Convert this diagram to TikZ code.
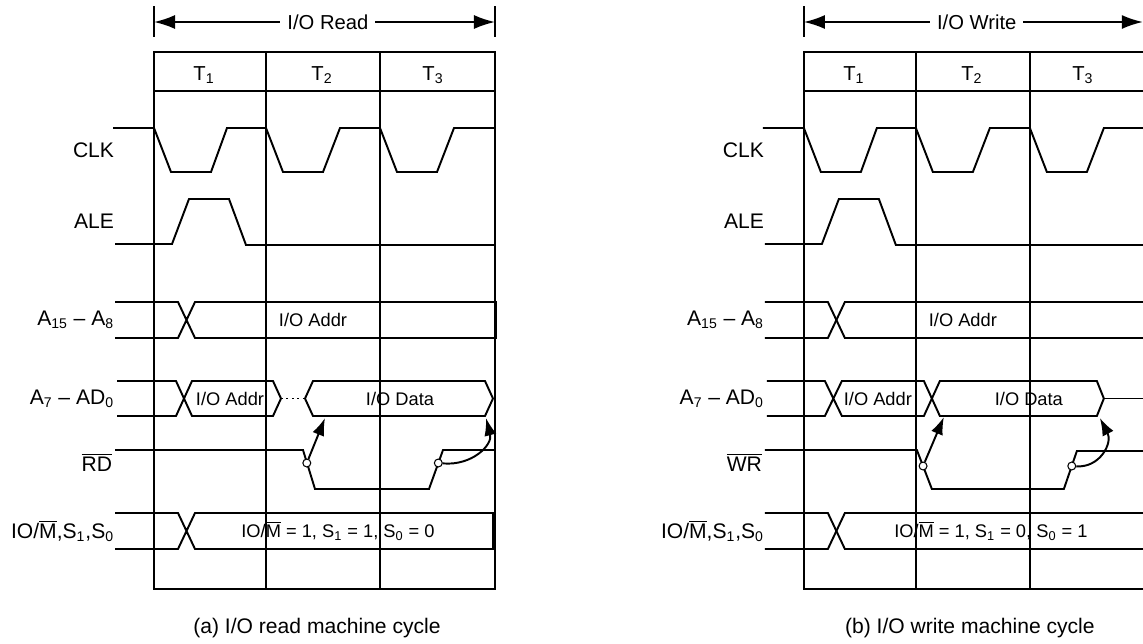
\documentclass[tikz,border=0pt]{standalone}
\usepackage{fontspec}
\setmainfont{Liberation Sans}
\usetikzlibrary{arrows.meta}

\begin{document}
\begin{tikzpicture}[x=0.02cm, y=-0.02cm, line width=1.1pt,
	sig/.style={anchor=east, inner sep=0pt, font=\fontsize{12}{14}\selectfont},
	bustext/.style={inner sep=0pt, font=\fontsize{10.4}{12}\selectfont},
	tlabel/.style={inner sep=0pt, font=\fontsize{11.5}{14}\selectfont},
	spanlabel/.style={fill=white, inner xsep=4pt, inner ysep=1pt, font=\fontsize{11.5}{14}\selectfont},
	capt/.style={inner sep=0pt, font=\fontsize{12}{14}\selectfont},
	knot/.style={circle, draw, fill=white, line width=0.6pt, inner sep=0pt, minimum size=4.5pt},
	cause/.style={-{Latex[length=10pt,width=7pt]}},
	span/.style={{Latex[length=12pt,width=8pt]}-{Latex[length=12pt,width=8pt]}}]
	\useasboundingbox (0,0) rectangle (1143,643);
	
	\draw (154,6) -- (154,37);
	\draw (495,6) -- (495,37);
	\draw[span] (154,22) -- (495,22) node[spanlabel, pos=0.51] (rspan) {I/O Read};
	
	\draw (154,52) rectangle (495,589);
	\draw (154,91) -- (495,91);
	\draw (266,52) -- (266,589);
	\draw (380,52) -- (380,589);
	\node[tlabel] (t1) at (204,75) {T\textsubscript{1}};
	\node[tlabel] (t2) at (322,75) {T\textsubscript{2}};
	\node[tlabel] (t3) at (433,75) {T\textsubscript{3}};
	
	\node[sig] (clk) at (115,150) {CLK};
	\draw (113,128) -- (154,128) -- (171,172) -- (211,172) -- (227,128) -- (266,128) -- (283,172) -- (323,172) -- (340,128) -- (380,128) -- (397,172) -- (437,172) -- (454,128) -- (495,128);
	
	\node[sig] (ale) at (115,221) {ALE};
	\draw (115,244) -- (172,244) -- (189,199) -- (229,199) -- (246,245) -- (495,245);
	
	\node[sig] (ahi) at (115,320) {A\textsubscript{15} -- A\textsubscript{8}};
	\draw (115,302) -- (178,302) -- (195,338) -- (496,338) -- (496,302) -- (195,302) -- (178,338) -- (115,338);
	\node[bustext] (ahiaddr) at (313,320) {I/O Addr};
	
	\node[sig] (alo) at (115,399) {A\textsubscript{7} -- AD\textsubscript{0}};
	\draw (117,381) -- (176,381) -- (192,416) -- (273,416) -- (281,398.5) -- (273,381) -- (192,381) -- (176,416) -- (117,416);
	\node[bustext] (aloaddr) at (230,399) {I/O Addr};
	\draw[dotted] (281,398.5) -- (305,398.5);
	\draw (305,398.5) -- (313,381) -- (485,381) -- (493,398.5) -- (485,416) -- (313,416) -- cycle;
	\node[bustext] (alodata) at (400,399) {I/O Data};
	\coordinate (dstart) at (325,418);
	\coordinate (dend) at (486,418);
	
	\node[sig, anchor=base east] (rd) at (113,471) {$\overline{\mbox{RD}}$};
	\draw (115,450) -- (303,450) -- (315,489) -- (429,489) -- (443,450) -- (495,450);
	\node[knot] (rfall) at (306.8,463) {};
	\node[knot] (rrise) at (438.3,463) {};
	\draw[cause] (rfall) -- (dstart);
	\draw[cause] (rrise) .. controls (472,466) and (493,445) .. (dend);
	
	\node[sig] (iom) at (115,531) {IO/$\overline{\mbox{M}}$,S\textsubscript{1},S\textsubscript{0}};
	\draw (115,513) -- (178,513) -- (195,549) -- (493,549) -- (493,513) -- (195,513) -- (178,549) -- (115,549);
	\node[bustext] (iomval) at (338,531) {IO/$\overline{\mbox{M}}$ = 1, S\textsubscript{1} = 1, S\textsubscript{0} = 0};
	
	\node[capt] (rcap) at (317,628) {(a) I/O read machine cycle};
	
	\begin{scope}[xshift=13cm]
	\draw (154,6) -- (154,37);
	\draw[span] (154,22) -- (493,22) node[spanlabel, pos=0.51] (wspan) {I/O Write};
	
	\draw (496,52) -- (154,52) -- (154,589) -- (496,589);
	\draw (154,91) -- (496,91);
	\draw (266,52) -- (266,589);
	\draw (380,52) -- (380,589);
	\node[tlabel] (t12) at (204,75) {T\textsubscript{1}};
	\node[tlabel] (t22) at (322,75) {T\textsubscript{2}};
	\node[tlabel] (t32) at (433,75) {T\textsubscript{3}};
	
	\node[sig] (clk2) at (115,150) {CLK};
	\draw (113,128) -- (154,128) -- (171,172) -- (211,172) -- (227,128) -- (266,128) -- (283,172) -- (323,172) -- (340,128) -- (380,128) -- (397,172) -- (437,172) -- (454,128) -- (500,128);
	
	\node[sig] (ale2) at (115,221) {ALE};
	\draw (115,244) -- (172,244) -- (189,199) -- (229,199) -- (246,245) -- (500,245);
	
	\node[sig] (ahi2) at (115,320) {A\textsubscript{15} -- A\textsubscript{8}};
	\draw (115,302) -- (178,302) -- (195,338) -- (500,338);
	\draw (115,338) -- (178,338) -- (195,302) -- (500,302);
	\node[bustext] (ahiaddr2) at (313,320) {I/O Addr};
	
	\node[sig] (alo2) at (115,399) {A\textsubscript{7} -- AD\textsubscript{0}};
	\draw (117,381) -- (175,381) -- (192,416) -- (274,416) -- (290,381) -- (447,381) -- (454,398.5) -- (447,416) -- (290,416) -- (274,381) -- (192,381) -- (175,416) -- (117,416);
	\draw (454,398.5) -- (500,398.5);
	\node[bustext] (aloaddr2) at (228,399) {I/O Addr};
	\node[bustext] (alodata2) at (379,399) {I/O Data};
	\coordinate (dstart2) at (294,417);
	\coordinate (dend2) at (450,418);
	
	\node[sig, anchor=base east] (wr) at (113,471) {$\overline{\mbox{WR}}$};
	\draw (115,450) -- (267,450) -- (282,489) -- (414,489) -- (427,451) -- (500,451);
	\node[knot] (wfall) at (273.2,466) {};
	\node[knot] (wrise) at (421.9,466) {};
	\draw[cause] (wfall) -- (dstart2);
	\draw[cause] (wrise) .. controls (450,468) and (463,443) .. (dend2);
	
	\node[sig] (iom2) at (115,531) {IO/$\overline{\mbox{M}}$,S\textsubscript{1},S\textsubscript{0}};
	\draw (115,513) -- (178,513) -- (195,549) -- (500,549);
	\draw (115,549) -- (178,549) -- (195,513) -- (500,513);
	\node[bustext] (iomval2) at (341,531) {IO/$\overline{\mbox{M}}$ = 1, S\textsubscript{1} = 0, S\textsubscript{0} = 1};
	
	\node[capt] (wcap) at (320,628) {(b) I/O write machine cycle};
	\end{scope}
\end{tikzpicture}
\end{document}
